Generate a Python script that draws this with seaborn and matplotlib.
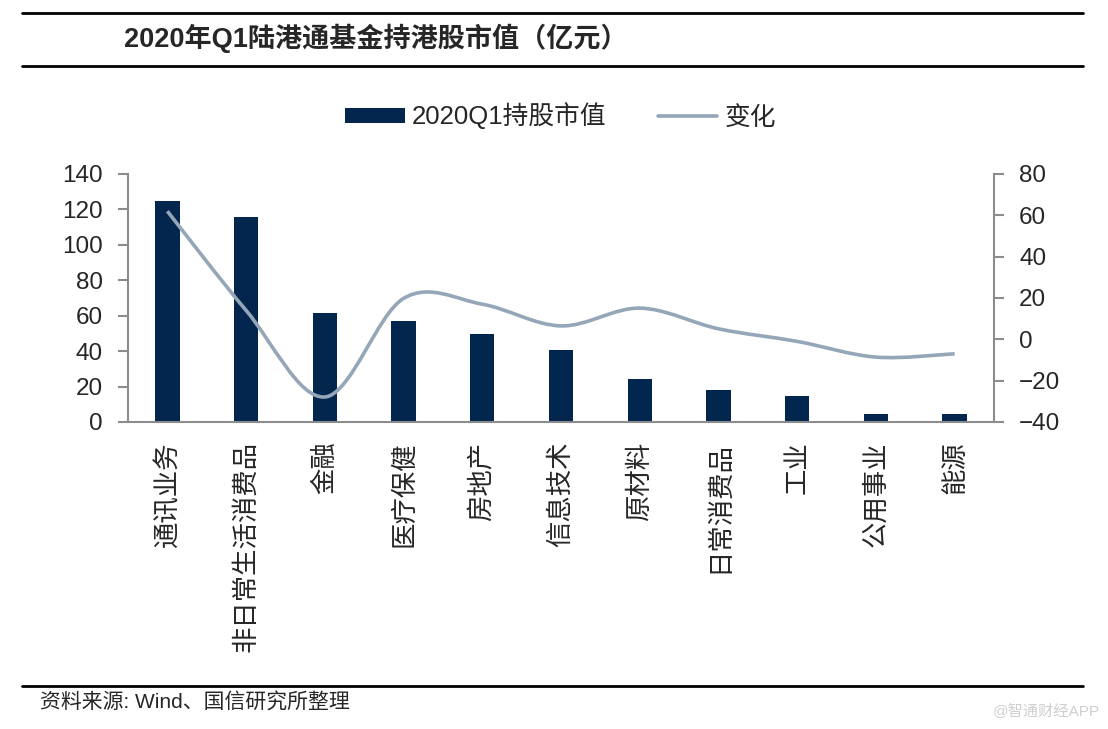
import numpy as np
import matplotlib
matplotlib.use("Agg")
import matplotlib.pyplot as plt
from matplotlib.path import Path
from matplotlib.patches import PathPatch, Patch
from matplotlib.lines import Line2D
import seaborn as sns

# data
categories = ["通讯业务", "非日常生活消费品", "金融", "医疗保健", "房地产", "信息技术",
              "原材料", "日常消费品", "工业", "公用事业", "能源"]
market_value = [124.9, 115.5, 61.6, 56.9, 49.7, 40.5, 24.1, 18.3, 14.5, 4.5, 4.3]
change = [62.0, 14.0, -27.9, 19.8, 17.0, 6.5, 15.1, 5.1, -1.0, -8.6, -7.0]

left_ticks = list(range(0, 141, 20))
right_ticks = list(range(-40, 81, 20))

title = "2020年Q1陆港通基金持港股市值（亿元）"
source = "资料来源: Wind、国信研究所整理"
watermark = "@智通财经APP"

NAVY = "#03264f"
LINE = "#94a6b7"
GREY = "#8c8c8c"

sns.set_style("white")
plt.rcParams["font.family"] = ["Liberation Sans", "Noto Sans CJK SC"]

W, H = 1108, 729
fig = plt.figure(figsize=(W / 100, H / 100), dpi=100)
ax = fig.add_axes([128 / W, 1 - 422 / H, (994 - 128) / W, (422 - 174) / H])

sns.barplot(x=categories, y=market_value, ax=ax, color=NAVY, saturation=1,
            width=0.31, linewidth=0)
ax.set_xlim(-0.5, len(categories) - 0.5)
ax.set_ylim(0, 140)
ax.set_yticks(left_ticks)

for s in ["top", "right"]:
    ax.spines[s].set_visible(False)
for s in ["left", "bottom"]:
    ax.spines[s].set_color(GREY)
    ax.spines[s].set_linewidth(1.5)

ax.set_xticks(np.arange(-0.5, len(categories), 1), minor=True)
ax.tick_params(axis="x", which="major", length=0, pad=14)
ax.tick_params(axis="x", which="minor", length=7, width=1.5, color=GREY, direction="out")
ax.tick_params(axis="y", length=7, width=1.5, color=GREY, direction="out",
               labelsize=17.5, pad=11, left=True)
for lab in ax.get_xticklabels():
    lab.set_rotation(90)
    lab.set_fontsize(19)
    lab.set_family(["Noto Sans CJK SC", "DejaVu Sans"])
    lab.set_va("top")
    lab.set_ha("center")
ax.set_xlabel("")
ax.set_ylabel("")

# right axis: smooth line (Catmull-Rom rendered as cubic Bezier)
ax2 = ax.twinx()
ax2.set_ylim(-40, 80)
ax2.set_yticks(right_ticks)
for s in ["top", "left", "bottom"]:
    ax2.spines[s].set_visible(False)
ax2.spines["right"].set_color(GREY)
ax2.spines["right"].set_linewidth(1.5)
ax2.tick_params(axis="y", length=7, width=1.5, color=GREY, direction="out",
                labelsize=17.5, pad=11, right=True)
ax2.grid(False)
ax.grid(False)

pts = np.column_stack([np.arange(len(change)), change]).astype(float)
ext = np.vstack([pts[0], pts, pts[-1]])
verts = [tuple(pts[0])]
codes = [Path.MOVETO]
for i in range(len(pts) - 1):
    p0, p1, p2, p3 = ext[i], ext[i + 1], ext[i + 2], ext[i + 3]
    c1 = p1 + (p2 - p0) / 6
    c2 = p2 - (p3 - p1) / 6
    verts += [tuple(c1), tuple(c2), tuple(p2)]
    codes += [Path.CURVE4] * 3
ax2.add_patch(PathPatch(Path(verts, codes), fill=False, edgecolor=LINE,
                        linewidth=2.6, capstyle="butt", zorder=3))

handles = [Patch(facecolor=NAVY, edgecolor="none"),
           Line2D([], [], color=LINE, linewidth=2.6)]
fig.legend(handles, ["2020Q1持股市值", "变化"], loc="center",
           bbox_to_anchor=(561 / W, 1 - 116 / H), ncol=2, frameon=False,
           fontsize=18.5, handlelength=2.3, handleheight=0.55, handletextpad=0.3,
           columnspacing=2.0)

# header / footer rules and texts
for y in [12.5, 65.5, 686]:
    fig.add_artist(Line2D([22 / W, 1083 / W], [1 - y / H, 1 - y / H],
                          transform=fig.transFigure, color="black", linewidth=2))
fig.text(124 / W, 1 - 38 / H, title, fontsize=19.5, fontweight="bold",
         va="center", ha="left")
fig.text(40 / W, 1 - 702 / H, source, fontsize=15, va="center", ha="left")
fig.text(1100 / W, 1 - 711 / H, watermark, fontsize=11, va="center", ha="right",
         color="#cfcfcf")

fig.savefig("out.png", dpi=100)
